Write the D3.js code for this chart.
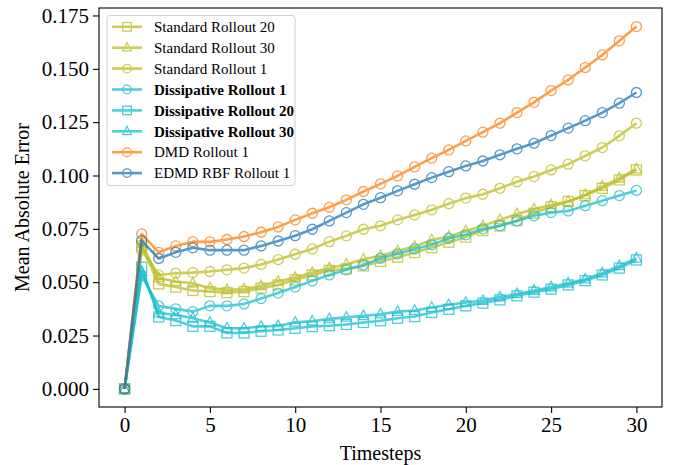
<!DOCTYPE html>
<html><head><meta charset="utf-8">
<script src="https://cdn.jsdelivr.net/npm/d3@7"></script>
<style>body{margin:0;background:#fff}svg{display:block}</style>
</head><body><svg id="c" width="677" height="465"></svg>
<script>
const timesteps = d3.range(0, 31);
const std20 = [0,0.067,0.0492,0.0477,0.0461,0.0456,0.0451,0.0456,0.0472,0.0487,0.0511,0.0534,0.0555,0.0562,0.0576,0.0597,0.0617,0.0639,0.0662,0.0687,0.0711,0.0742,0.0764,0.0789,0.0823,0.0854,0.0878,0.0906,0.094,0.0979,0.1026];
const std30 = [0,0.068,0.052,0.0503,0.0495,0.0472,0.0464,0.0467,0.0483,0.0503,0.0522,0.0545,0.0566,0.0583,0.0608,0.0623,0.0647,0.0667,0.0698,0.0714,0.074,0.0764,0.0792,0.082,0.0842,0.0862,0.0878,0.0909,0.0948,0.0987,0.103];
const std1 = [0,0.065,0.0534,0.0542,0.0545,0.055,0.0558,0.0566,0.0583,0.0606,0.0631,0.0656,0.069,0.0717,0.0748,0.0764,0.0792,0.0815,0.0839,0.0868,0.0894,0.0912,0.094,0.0971,0.0995,0.1026,0.1053,0.1092,0.1131,0.1186,0.1245];
const dis1 = [0,0.053,0.0389,0.0375,0.0362,0.0389,0.0389,0.0398,0.0423,0.0449,0.0477,0.0506,0.0534,0.0558,0.0581,0.0612,0.0633,0.0656,0.0675,0.0706,0.0722,0.075,0.0764,0.0787,0.0811,0.0826,0.0834,0.0858,0.0882,0.0906,0.093];
const dis20 = [0,0.057,0.0337,0.032,0.0293,0.0293,0.0262,0.0262,0.027,0.0276,0.0284,0.0292,0.0296,0.0302,0.0311,0.0319,0.0331,0.0339,0.0358,0.0373,0.0389,0.0402,0.0417,0.0436,0.0453,0.0467,0.0487,0.0507,0.0534,0.0566,0.0604];
const dis30 = [0,0.055,0.0355,0.0347,0.0331,0.0311,0.0284,0.0284,0.0292,0.0295,0.0312,0.0317,0.0328,0.0335,0.0342,0.035,0.0362,0.0367,0.0381,0.0394,0.0405,0.0414,0.043,0.0445,0.0461,0.0477,0.0495,0.0514,0.0542,0.0576,0.0612];
const dmd1 = [0,0.0726,0.064,0.067,0.069,0.0689,0.070,0.0714,0.0734,0.0759,0.0792,0.0823,0.0851,0.0886,0.0925,0.0961,0.0998,0.104,0.1081,0.112,0.1162,0.1203,0.1245,0.1295,0.1343,0.1398,0.1448,0.1506,0.1565,0.1631,0.1698];
const edmd1 = [0,0.0695,0.0611,0.064,0.0661,0.065,0.065,0.065,0.067,0.0693,0.0718,0.0748,0.0787,0.0826,0.0865,0.0896,0.0928,0.0959,0.099,0.1018,0.1045,0.1068,0.1097,0.1125,0.1151,0.1187,0.1222,0.1257,0.1295,0.1339,0.1389];
const seriesNames = ["Standard Rollout 20","Standard Rollout 30","Standard Rollout 1","Dissipative Rollout 1","Dissipative Rollout 20","Dissipative Rollout 30","DMD Rollout 1","EDMD RBF Rollout 1"];
const seriesValues = [std20, std30, std1, dis1, dis20, dis30, dmd1, edmd1];
const seriesColors = ["#bcbd22","#bcbd22","#bcbd22","#17becf","#17becf","#17becf","#ff7f0e","#1f77b4"];
const seriesMarkers = ["square","triangle","circle","circle","square","triangle","circle","circle"];
const seriesBold = [false,false,false,true,true,true,false,false];
const xTicks = [0,5,10,15,20,25,30];
const yTicks = [0,0.025,0.05,0.075,0.1,0.125,0.15,0.175];

const svg = d3.select("#c");
const FONT = "'Liberation Serif','Times New Roman',serif";
const L = 99, R = 662, T = 8, B = 407;
const x = d3.scaleLinear().domain([-1.5, 31.5]).range([L, R]);
const y = d3.scaleLinear().domain([-0.0085, 0.1785]).range([B, T]);

function marker(g, type, cx, cy, color, s) {
  if (type === "circle") g.append("circle").attr("cx", cx).attr("cy", cy).attr("r", s);
  else if (type === "square") g.append("rect").attr("x", cx - s).attr("y", cy - s).attr("width", 2*s).attr("height", 2*s);
  else g.append("path").attr("d", `M${cx},${cy - s*1.15}L${cx + s},${cy + s*0.75}L${cx - s},${cy + s*0.75}Z`);
}

const plot = svg.append("g");
const line = d3.line().x((d,i)=>x(timesteps[i])).y(d=>y(d));
seriesValues.forEach((vals, k) => {
  const g = plot.append("g").attr("opacity", 0.75);
  g.append("path").datum(vals).attr("d", line).attr("fill", "none")
    .attr("stroke", seriesColors[k]).attr("stroke-width", 2.6).attr("stroke-linejoin","round");
  const mg = g.append("g").attr("fill", "none").attr("stroke", seriesColors[k]).attr("stroke-width", 1.3);
  vals.forEach((v, i) => marker(mg, seriesMarkers[k], x(timesteps[i]), y(v), seriesColors[k], 5));
});

// frame
svg.append("rect").attr("x", L).attr("y", T).attr("width", R - L).attr("height", B - T)
  .attr("fill", "none").attr("stroke", "#000").attr("stroke-width", 1.1);

// axes
const xa = svg.append("g").attr("transform", `translate(0,${B})`)
  .call(d3.axisBottom(x).tickValues(xTicks).tickSize(6).tickPadding(4).tickFormat(d3.format("d")));
const ya = svg.append("g").attr("transform", `translate(${L},0)`)
  .call(d3.axisLeft(y).tickValues(yTicks).tickSize(6).tickPadding(4).tickFormat(d3.format(".3f")));
[xa, ya].forEach(a => {
  a.select(".domain").remove();
  a.selectAll("line").attr("stroke", "#000").attr("stroke-width", 1.1);
  a.selectAll("text").attr("font-family", FONT).attr("font-size", 21).attr("fill", "#000");
});

svg.append("text").attr("x", (x(0)+x(30))/2).attr("y", 460).attr("text-anchor", "middle")
  .attr("font-family", FONT).attr("font-size", 20).text("Timesteps");
svg.append("text").attr("transform", `translate(29,${(T+B)/2}) rotate(-90)`).attr("text-anchor", "middle")
  .attr("font-family", FONT).attr("font-size", 20).text("Mean Absolute Error");

// legend
const lg = svg.append("g");
lg.append("rect").attr("x", 107).attr("y", 15.5).attr("width", 188).attr("height", 170).attr("rx", 3)
  .attr("fill", "#fff").attr("fill-opacity", 0.85).attr("stroke", "#d0d0d0").attr("stroke-width", 1);
seriesNames.forEach((name, k) => {
  const cy = 26.8 + k * 20.9;
  const g = lg.append("g").attr("opacity", 0.75);
  g.append("line").attr("x1", 112).attr("x2", 142).attr("y1", cy).attr("y2", cy)
    .attr("stroke", seriesColors[k]).attr("stroke-width", 2.6);
  const mg = g.append("g").attr("fill", "none").attr("stroke", seriesColors[k]).attr("stroke-width", 1.3);
  marker(mg, seriesMarkers[k], 127, cy, seriesColors[k], 4.3);
  lg.append("text").attr("x", 154).attr("y", cy).attr("dy", "0.35em")
    .attr("font-family", FONT).attr("font-size", 15).attr("font-weight", seriesBold[k] ? "bold" : "normal")
    .attr("fill", "#000").text(name);
});
</script></body></html>
